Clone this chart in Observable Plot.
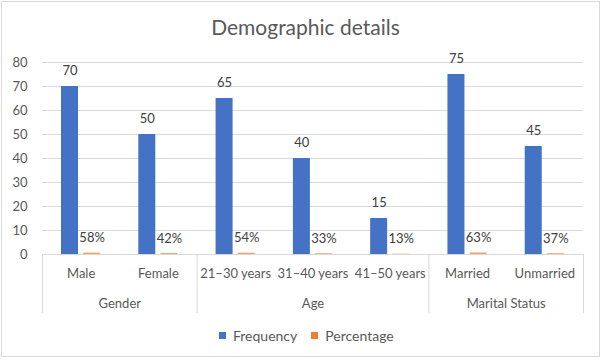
<!DOCTYPE html>
<html>
<head>
<meta charset="utf-8">
<script src="https://cdn.jsdelivr.net/npm/d3@7"></script>
<script src="https://cdn.jsdelivr.net/npm/@observablehq/plot@0.6"></script>
<style>
  html, body { margin: 0; padding: 0; background: #fff; }
  #wrap { position: relative; width: 603px; height: 361px; overflow: hidden; }
  #border { position: absolute; left: 1px; top: 1px; width: 599px; height: 356px; border: 1px solid #d9d9d9; box-sizing: border-box; }
  #chart { position: absolute; left: 0; top: 0; }
  #legend { position: absolute; left: 219px; top: 319px; }
</style>
</head>
<body>
<div id="wrap">
  <div id="border"></div>
  <div id="chart"></div>
  <div id="legend"></div>
</div>
<script>
const title = "Demographic details";
const categories = ["Male", "Female", "21–30 years", "31–40 years", "41–50 years", "Married", "Unmarried"];
const frequency = [70, 50, 65, 40, 15, 75, 45];
const percentage = [58, 42, 54, 33, 13, 63, 37];
const groups = ["Gender", "Age", "Marital Status"];
const groupSizes = [2, 3, 2];
const series = ["Frequency", "Percentage"];
const yTicks = [0, 10, 20, 30, 40, 50, 60, 70, 80];

const colors = ["#4472C4", "#ED7D31"];
const font = "Lato, 'Open Sans', sans-serif";

// table built from the arrays
const rows = categories.map((cat, i) => ({i, cat, freq: frequency[i], pct: percentage[i]}));
let start = 0;
const groupRows = groups.map((g, k) => { const r = {name: g, start, n: groupSizes[k]}; start += groupSizes[k]; return r; });
const boundaries = [0, ...groupRows.map(g => g.start + g.n)];

// within-category layout (fractions of a category slot)
const bw = 0.22, off1 = 0.246, off2 = 0.532;

const plot = Plot.plot({
  width: 603,
  height: 361,
  marginLeft: 42,
  marginRight: 20,
  marginTop: 62,
  marginBottom: 107,
  style: {fontFamily: font, fontSize: "13px", color: "#595959", background: "transparent"},
  x: {type: "linear", domain: [0, categories.length], axis: null},
  y: {domain: [0, 80], label: null},
  color: {domain: series, range: colors},
  marks: [
    Plot.gridY(yTicks, {stroke: "#d9d9d9", strokeOpacity: 1}),
    Plot.axisY(yTicks, {tickSize: 0, tickPadding: 15, fill: "#595959", fontSize: 13, label: null}),
    Plot.rectY(rows, {x1: d => d.i + off1, x2: d => d.i + off1 + bw, y: "freq", fill: () => series[0]}),
    Plot.rectY(rows, {x1: d => d.i + off2, x2: d => d.i + off2 + bw, y: d => d.pct / 100, fill: () => series[1], fillOpacity: 0.7}),
    Plot.text(rows, {x: d => d.i + off1 + bw / 2, y: "freq", text: d => String(d.freq), dy: -16, fill: "#404040", fontSize: 13}),
    Plot.text(rows, {x: d => d.i + off2 + bw / 2, y: d => d.pct / 100, text: d => d.pct + "%", dy: -15, fill: "#404040", fontSize: 13}),
    Plot.ruleX(boundaries, {x: d => d, stroke: "#d9d9d9", insetTop: 192, insetBottom: -59}),
    Plot.text(rows, {x: d => d.i + 0.5, text: "cat", frameAnchor: "bottom", lineAnchor: "middle", dy: 19, fill: "#595959", fontSize: 13}),
    Plot.text(groupRows, {x: d => d.start + d.n / 2, text: "name", frameAnchor: "bottom", lineAnchor: "middle", dy: 49, fill: "#595959", fontSize: 13}),
    Plot.text([title], {text: d => d, frameAnchor: "top", lineAnchor: "middle", dy: -34, dx: -7.5, fill: "#595959", fontSize: 21})
  ]
});
document.getElementById("chart").append(plot);

const legend = plot.legend("color", {swatchSize: 7, style: {fontFamily: font, fontSize: "14px", color: "#595959", marginBottom: "0"}});
document.getElementById("legend").append(legend);
</script>
</body>
</html>
